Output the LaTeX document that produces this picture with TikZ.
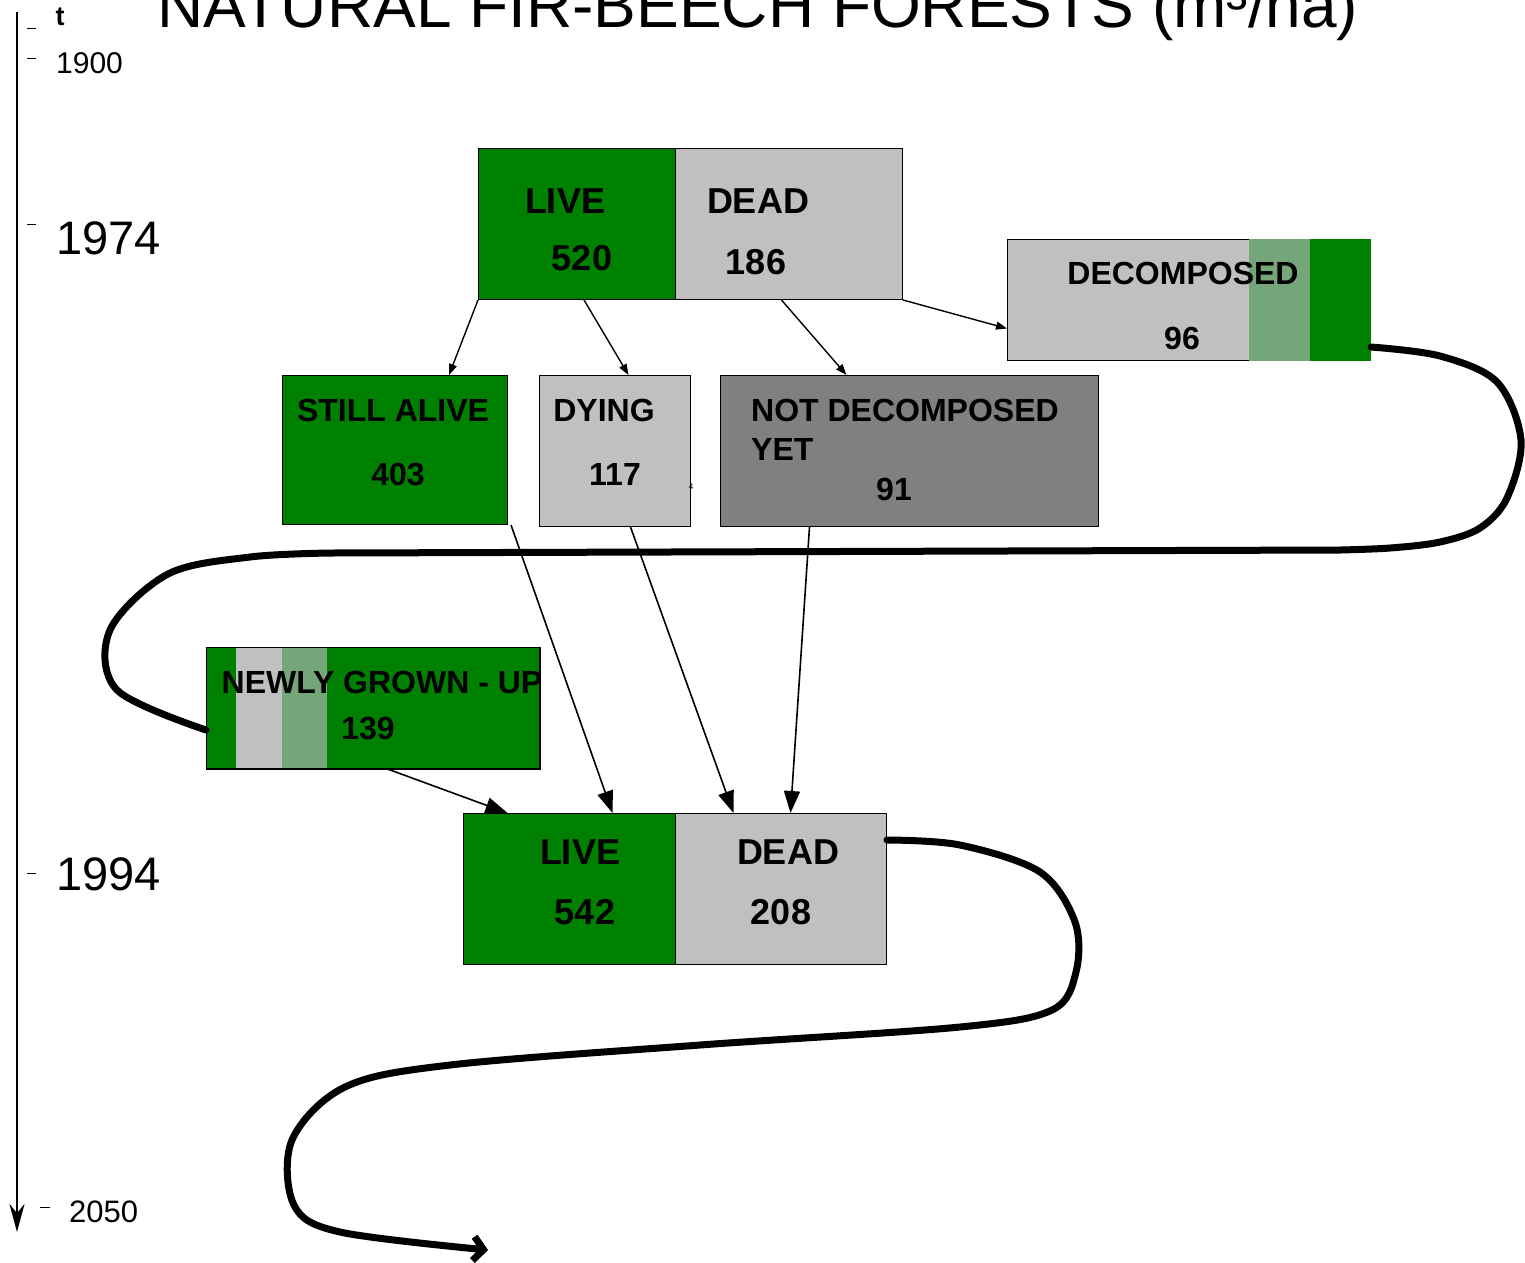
\documentclass[tikz,border=0pt]{standalone}
\usepackage{fontspec}
\setmainfont{Liberation Sans}
\usepackage{tikz}
\usetikzlibrary{arrows.meta,calc}
\usepackage{xcolor}
\definecolor{livegreen}{RGB}{0,128,0}
\definecolor{deadgray}{RGB}{192,192,192}
\definecolor{notdecgray}{RGB}{128,128,128}
\definecolor{mixgreen}{RGB}{117,166,121}

\begin{document}
\begin{tikzpicture}[x=1pt,y=-1pt,
  box/.style={draw=black, line width=1pt, anchor=north west, inner sep=0pt},
  bigtxt/.style={font=\fontsize{36}{40}\selectfont\bfseries, inner sep=0pt},
  smalltxt/.style={font=\fontsize{32}{36}\selectfont\bfseries, inner sep=0pt},
  link/.style={line width=1.4pt, -{Triangle[length=11pt,width=8pt]}},
  biglink/.style={line width=1.6pt, -{Triangle[length=22pt,width=16pt]}},
  stream/.style={line width=7pt, line cap=round, line join=round}]
  \useasboundingbox (0,0) rectangle (1525,1262);
  % Title (cut at the top)
  \node[font=\fontsize{64}{70}\selectfont, anchor=base, inner sep=0pt] (title) at (758,27) {NATURAL FIR-BEECH FORESTS (m³/ha)};
  % Time axis
  \draw[line width=2.2pt, -{Stealth[length=28pt,width=15pt]}] (17,12) -- (17,1232);
  \foreach \y in {28, 58, 224, 873} {
    \draw[line width=1pt] (27,\y) -- (36,\y);
  }
  \draw[line width=1pt] (40,1207) -- (50,1207);
  \node[font=\fontsize{27}{30}\selectfont\bfseries, inner sep=0pt] (tlabel) at (60,17) {t};
  \node[font=\fontsize{30}{34}\selectfont, anchor=west, inner sep=0pt] (y1900) at (56,63) {1900};
  \node[font=\fontsize{47}{50}\selectfont, anchor=west, inner sep=0pt] (y1974) at (56,238) {1974};
  \node[font=\fontsize{47}{50}\selectfont, anchor=west, inner sep=0pt] (y1994) at (56,874) {1994};
  \node[font=\fontsize{31}{34}\selectfont, anchor=west, inner sep=0pt] (y2050) at (69,1212) {2050};
  % 1974: live and dead
  \node[box, fill=livegreen, minimum width=197pt, minimum height=151pt] (live74) at (478,148) {};
  \node[box, fill=deadgray, minimum width=227pt, minimum height=151pt] (dead74) at (675,148) {};
  \node[bigtxt] (live74a) at (565,201) {LIVE};
  \node[bigtxt] (live74b) at (582,258) {520};
  \node[bigtxt] (dead74a) at (758,201) {DEAD};
  \node[bigtxt] (dead74b) at (756,262) {186};
  % Decomposed
  \node[box, fill=deadgray, minimum width=363pt, minimum height=121pt] (decomp) at (1007,239) {};
  \fill[mixgreen] (1249,239) rectangle (1310,360.5);
  \fill[livegreen] (1310,239) rectangle (1370.5,360.5);
  \node[smalltxt] (decompa) at (1183,273) {DECOMPOSED};
  \node[smalltxt] (decompb) at (1182,338) {96};
  % Still alive, dying, not decomposed
  \node[box, fill=livegreen, minimum width=225pt, minimum height=149pt] (alive) at (282,375) {};
  \node[smalltxt] (alivea) at (393,410) {STILL ALIVE};
  \node[smalltxt] (aliveb) at (398,474) {403};
  \node[box, fill=deadgray, minimum width=151pt, minimum height=151pt] (dying) at (539,375) {};
  \node[smalltxt] (dyinga) at (604,410) {DYING};
  \node[smalltxt] (dyingb) at (615,474) {117};
  \node[font=\fontsize{8}{9}\selectfont, inner sep=0pt] (stray) at (691,487) {4};
  \node[box, fill=notdecgray, minimum width=378pt, minimum height=151pt] (notdec) at (720,375) {};
  \node[smalltxt, anchor=west] (notdeca) at (751,410) {NOT DECOMPOSED};
  \node[smalltxt, anchor=west] (notdecb) at (751,449) {YET};
  \node[smalltxt] (notdecc) at (894,489) {91};
  % Newly grown-up
  \node[box, fill=livegreen, minimum width=333pt, minimum height=121pt] (newly) at (206,647) {};
  \fill[deadgray] (236,647) rectangle (282,768);
  \fill[mixgreen] (282,647) rectangle (327,768);
  \draw[line width=1pt] (newly.north west) rectangle (newly.south east);
  \node[smalltxt] (newlya) at (382,682) {NEWLY GROWN - UP};
  \node[smalltxt] (newlyb) at (368,728) {139};
  % 1994: live and dead
  \node[box, fill=livegreen, minimum width=212pt, minimum height=151pt] (live94) at (463,813) {};
  \node[box, fill=deadgray, minimum width=211pt, minimum height=151pt] (dead94) at (675,813) {};
  \node[bigtxt] (live94a) at (580,852) {LIVE};
  \node[bigtxt] (live94b) at (585,912) {542};
  \node[bigtxt] (dead94a) at (788,852) {DEAD};
  \node[bigtxt] (dead94b) at (781,912) {208};
  % Flows 1974 -> parts
  \draw[link] (live74.south west) -- ([xshift=54pt]alive.north);
  \draw[link] ([xshift=106pt]live74.south west) -- ([xshift=13.5pt]dying.north);
  \draw[link] ([xshift=-7.5pt]dead74.south) -- ([xshift=-63pt]notdec.north);
  \draw[link] (dead74.south east) -- ([yshift=-28.5pt]decomp.west);
  % Flows parts -> 1994
  \draw[biglink] ([xshift=3pt]alive.south east) -- ([xshift=43pt]live94.north);
  \draw[biglink] ([xshift=15.5pt]dying.south) -- ([xshift=-47.5pt]dead94.north);
  \draw[biglink] ([xshift=-100pt]notdec.south) -- ([xshift=9.5pt]dead94.north);
  \draw[biglink] ([xshift=14.5pt]newly.south) -- ([xshift=-62pt]live94.north);
  % Cycle lines
  \coordinate (s1) at ([yshift=14pt]decomp.south east);
  \coordinate (e1) at ([yshift=-22pt]newly.west);
  \draw[stream] plot[smooth, tension=0.55] coordinates {(s1) (1440,356) (1497,382) (1521,440) (1507,498) (1480,528) (1440,542) (1390,548) (1340,550)}
    -- plot[smooth, tension=0.55] coordinates {(330,553) (250,557) (168,574) (110,630) (117,690) (e1)};
  \coordinate (s2) at ([yshift=-27pt]dead94.north east);
  \coordinate (future) at (488,1250);
  \draw[stream, -{Straight Barb[length=10pt,width=24pt]}] plot[smooth, tension=0.55] coordinates {(s2) (960,845) (1040,872) (1075,922) (1076,972) (1052,1010) (960,1027) (700,1045) (450,1065) (345,1087) (292,1140) (294,1205) (340,1232) (future)};
\end{tikzpicture}
\end{document}
